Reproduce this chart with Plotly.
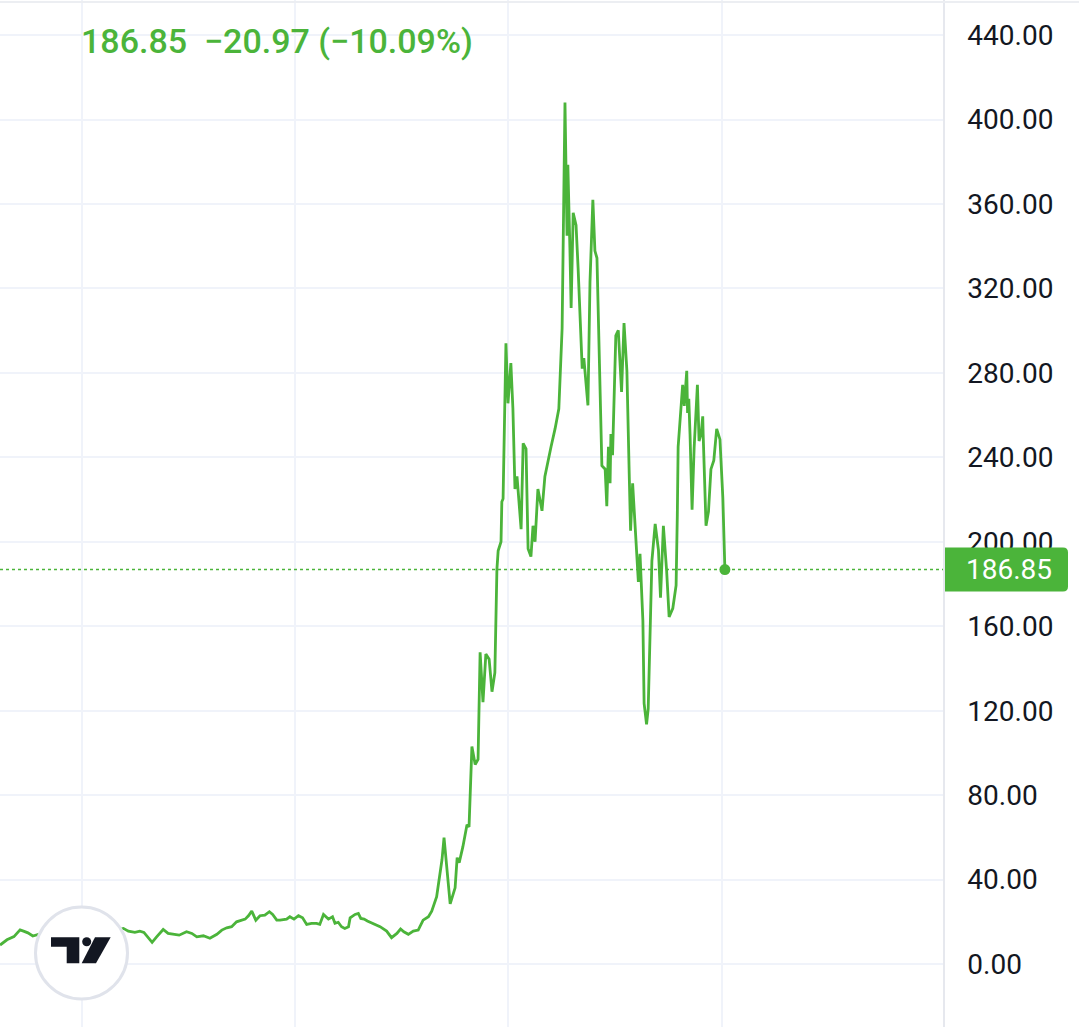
import plotly.graph_objects as go

# weeks from the left edge of the visible window, and the close
weeks = [0, 1.7, 3.4, 4.9, 5.9, 6.8, 8.0, 11.0, 14.6, 18.3, 22.0, 25.6, 28.0,
         30.1, 31.3, 32.9, 34.1, 35.1, 36.2, 37.1, 38.2, 39.8, 41.0, 42.3, 43.7, 45.5, 46.8,
         48.0, 49.6, 51.2, 52.9, 54.1, 55.3, 56.5, 57.7, 59.8, 60.6, 61.4, 62.4, 63.4, 64.6,
         65.7, 66.5, 67.5, 68.3, 69.9, 70.7, 71.7, 72.8, 73.8, 74.8, 76.0, 77.2, 78.0, 78.9,
         80.1, 81.1, 81.7, 82.5, 83.3, 84.1, 85.0, 85.4, 86.6, 87.4, 88.0, 88.8, 89.6, 91.0,
         92.7, 94.3, 95.5, 96.8, 97.7, 98.5, 99.6, 100.8, 102.0, 103.2, 104.5, 105.3, 105.9,
         106.5, 107.8, 108.3, 109.8, 111.0,
         111.5, 112.0, 112.9, 113.4, 113.9, 114.4, 115.1, 115.9, 116.6, 117.1, 117.8, 118.5,
         119.3, 120.0, 120.7, 121.2, 121.5, 122.2, 122.4, 122.7, 123.4, 123.9, 124.6, 125.1,
         125.6, 126.1, 127.1, 127.6, 128.3, 128.8, 129.5, 130.0, 130.5, 131.2, 132.2, 132.9,
         133.7, 134.4, 135.4, 136.3, 137.1, 137.8, 138.3, 138.5, 139.0, 139.3, 139.8, 140.5,
         141.0, 141.5, 142.0, 142.4, 143.2, 143.4, 143.9, 144.6, 145.1, 145.6, 146.8, 147.6,
         148.0, 148.4, 148.8, 149.0, 149.4, 149.8, 150.2, 150.8, 151.6, 152.2, 152.9, 153.5,
         153.8, 154.3, 154.9, 155.1, 155.7, 156.1, 156.8, 157.1, 157.7, 158.1, 159.0, 159.8,
         160.6, 161.1, 161.8, 162.6, 163.2, 164.1, 164.9, 165.2, 165.4, 166.0, 166.5, 166.9,
         167.5, 167.7, 168.0, 168.3, 168.8, 169.3, 170.1, 170.5, 171.0, 171.4, 171.5, 172.2,
         172.8, 173.4, 174.1, 174.8, 175.6, 176.3, 176.8]

price = [9.0, 11.5, 13.0, 16.2, 15.5, 14.8, 13.3, 15.0, 14.0, 16.0, 13.0, 15.0, 16.0,
         16.9, 15.6, 15.0, 15.6, 15.0, 12.5, 10.3, 12.9, 16.4, 14.5, 14.1, 13.7, 15.3, 14.5,
         12.9, 13.4, 12.2, 14.1, 16.1, 17.2, 17.7, 20.0, 21.3, 22.9, 25.1, 20.8, 22.9, 23.2,
         24.8, 23.5, 20.8, 20.8, 21.3, 22.4, 21.3, 22.9, 21.9, 18.8, 19.3, 19.3, 18.8, 23.5,
         21.3, 22.4, 19.3, 19.8, 17.7, 16.9, 17.7, 21.9, 23.5, 24.0, 21.6, 21.3, 20.4, 19.3,
         17.7, 15.6, 12.5, 14.5, 16.6, 15.3, 14.1, 15.6, 16.1, 20.8, 22.4, 25.1, 28.8,
         31.9, 49.4, 59.9, 28.5, 36.1,
         50.4, 48.0, 55.6, 61.3, 66.0, 65.0, 103.0, 94.5, 97.0, 147.7, 124.0, 146.8,
         144.4, 129.0, 138.0, 187.0, 195.7, 200.0, 219.0, 220.4, 294.0, 265.6, 284.6, 263.0,
         225.0, 231.0, 206.0, 246.6, 244.0, 196.7, 193.0, 207.6, 200.0, 225.0, 214.7, 231.0,
         239.4, 245.0, 253.7, 263.0, 301.0, 408.0, 345.0, 378.6, 339.0, 310.7, 355.8, 350.0,
         329.7, 307.0, 282.0, 287.0, 270.0, 264.6, 323.0, 362.0, 337.8, 334.4, 236.0, 234.4,
         216.9, 245.0, 227.7, 251.0, 241.0, 274.3, 297.7, 300.2, 271.0, 303.6, 281.0, 229.4,
         205.2, 227.7, 207.6, 196.0, 181.0, 194.3, 162.7, 123.5, 113.5, 121.0, 191.0, 208.5,
         196.0, 173.5, 207.6, 186.0, 164.4, 168.5, 179.3, 212.7, 245.0, 261.0, 274.3, 264.4,
         281.0, 261.0, 267.7, 251.0, 215.2, 244.4, 274.3, 247.7, 251.0, 259.4, 251.0, 207.6,
         214.3, 234.4, 238.5, 253.5, 248.5, 221.0, 186.85]

last_price = 186.85
change = -20.97
change_pct = -10.09
y_ticks = list(range(0, 441, 40))

green = "#4bb43a"
grid = "#f0f3fa"

fig = go.Figure()

fig.add_trace(go.Scatter(x=weeks, y=price, mode="lines",
                         line=dict(color=green, width=2.8), hoverinfo="skip"))

# last price marker
fig.add_trace(go.Scatter(x=[weeks[-1]], y=[price[-1]], mode="markers",
                         marker=dict(color=green, size=11), hoverinfo="skip"))

# dotted last-price line
fig.add_hline(y=last_price, line=dict(color=green, width=1.6, dash="dot"))

# top border
fig.add_shape(type="line", xref="paper", yref="paper", x0=0, x1=1.2, y0=0.998, y1=0.998,
              line=dict(color="#eceef2", width=2))

# price badge on the axis
r = 5
badge = (f"M 2,-22 L {125 - r},-22 Q 125,-22 125,{-22 + r} L 125,{22 - r} "
         f"Q 125,22 {125 - r},22 L 2,22 Z")
fig.add_shape(type="path", xref="paper", yref="y", xsizemode="pixel", ysizemode="pixel",
              xanchor=1, yanchor=last_price, path=badge,
              fillcolor=green, line=dict(width=0), layer="above")
fig.add_annotation(xref="paper", yref="y", x=1, y=last_price, xanchor="left",
                   xshift=21, text=f"{last_price:.2f}", showarrow=False,
                   font=dict(family="Roboto", size=28, color="white"))

# header
header = f"{last_price:.2f}  \u2212{abs(change):.2f} (\u2212{abs(change_pct):.2f}%)"
fig.add_annotation(xref="paper", yref="paper", x=79 / 943, y=1 - 41 / 1027,
                   xanchor="left", yanchor="middle", text=header, showarrow=False,
                   font=dict(family="Roboto", size=34, color=green, weight=500))

# TradingView logo badge
ax, ay = 81.5 / 943, 1 - 953 / 1027
fig.add_shape(type="circle", xref="paper", yref="paper", xsizemode="pixel", ysizemode="pixel",
              xanchor=ax, yanchor=ay, x0=-46, x1=46, y0=-46, y1=46,
              fillcolor="white", line=dict(color="#e0e3eb", width=3), layer="above")
fig.add_shape(type="path", xref="paper", yref="paper", xsizemode="pixel", ysizemode="pixel",
              xanchor=ax, yanchor=ay,
              path="M -30.5,15.7 L -2.2,15.7 L -2.2,-10.3 L -14.8,-10.3 L -14.8,6.3 L -30.5,6.3 Z",
              fillcolor="#131722", line=dict(width=0), layer="above")
fig.add_shape(type="circle", xref="paper", yref="paper", xsizemode="pixel", ysizemode="pixel",
              xanchor=ax, yanchor=ay, x0=0.7, x1=9.7, y0=6.8, y1=15.8,
              fillcolor="#131722", line=dict(width=0), layer="above")
fig.add_shape(type="path", xref="paper", yref="paper", xsizemode="pixel", ysizemode="pixel",
              xanchor=ax, yanchor=ay,
              path="M 13.5,15.7 L 29.2,15.7 L 14.5,-10.3 L 0.2,-10.3 Z",
              fillcolor="#131722", line=dict(width=0), layer="above")

fig.update_xaxes(range=[0, 230], tickvals=[20, 72, 124, 176], showticklabels=False,
                 showgrid=True, gridcolor=grid, gridwidth=1.5, zeroline=False,
                 showline=False, fixedrange=True)
fig.update_yaxes(side="right", range=[-29.8, 456.6], tickvals=y_ticks, tickformat=".2f",
                 showgrid=True, gridcolor=grid, gridwidth=1.5, zeroline=False,
                 showline=True, linecolor="#e6e8ee", linewidth=1.5, ticks="",
                 ticklabelstandoff=17,
                 tickfont=dict(family="Roboto", size=28, color="#131722"))

fig.update_layout(width=1079, height=1027, showlegend=False,
                  paper_bgcolor="white", plot_bgcolor="white",
                  margin=dict(l=0, r=136, t=0, b=0))

# drop the page's default body margin so the figure sits flush in the window
fig.write_html("out.html", config={"displayModeBar": False},
               post_script="document.body.style.margin='0';document.body.style.overflow='hidden';")
